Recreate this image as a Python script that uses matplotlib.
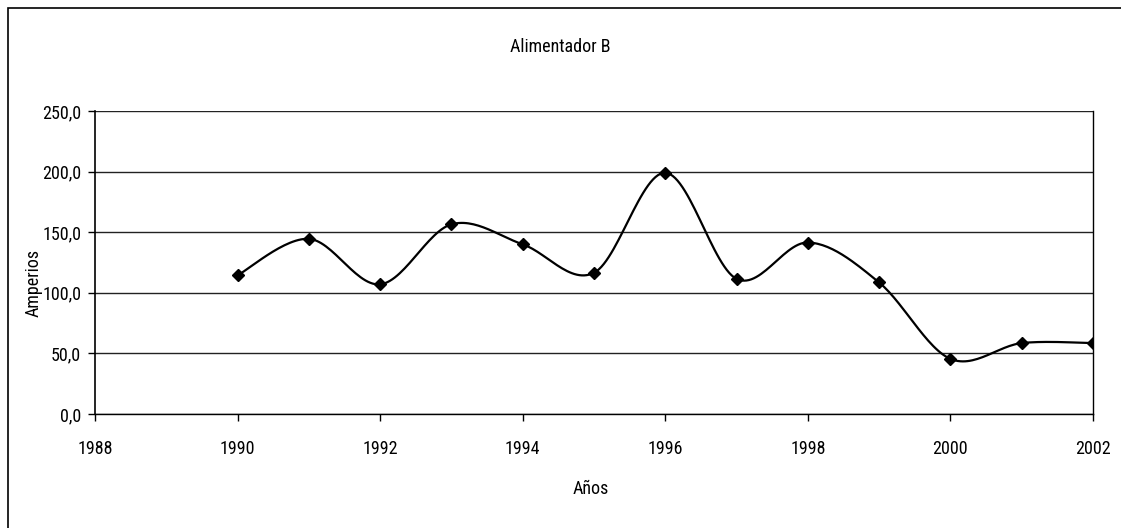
import numpy as np
import matplotlib.pyplot as plt
from matplotlib.patches import Rectangle
from matplotlib import font_manager

years = [1990, 1991, 1992, 1993, 1994, 1995, 1996, 1997, 1998, 1999, 2000, 2001, 2002]
amperios = [114.5, 144.5, 107.0, 156.5, 140.0, 116.5, 199.0, 111.5, 141.5, 108.5, 45.5, 58.5, 58.5]
x_ticks = [1988, 1990, 1992, 1994, 1996, 1998, 2000, 2002]
y_ticks = [0, 50, 100, 150, 200, 250]


def pick_font():
    names = {f.name for f in font_manager.fontManager.ttflist}
    for name in ["Liberation Sans Narrow", "Roboto Condensed", "Liberation Sans", "DejaVu Sans"]:
        if name in names:
            return name
    return "DejaVu Sans"


def smooth_line(x, y, n=30):
    # catmull-rom through the points, like a spreadsheet smoothed line
    x = np.asarray(x, float)
    y = np.asarray(y, float)
    px = np.concatenate([[x[0]], x, [x[-1]]])
    py = np.concatenate([[y[0]], y, [y[-1]]])
    xs, ys = [], []
    for i in range(1, len(px) - 2):
        p0, p1, p2, p3 = (np.array([px[j], py[j]]) for j in range(i - 1, i + 3))
        c1 = p1 + (p2 - p0) / 6
        c2 = p2 - (p3 - p1) / 6
        t = np.linspace(0, 1, n)[:, None]
        pts = ((1 - t) ** 3) * p1 + 3 * ((1 - t) ** 2) * t * c1 + 3 * (1 - t) * t ** 2 * c2 + t ** 3 * p2
        xs.extend(pts[:, 0])
        ys.extend(pts[:, 1])
    return np.array(xs), np.array(ys)


font = pick_font()
plt.rcParams['font.family'] = [font, 'DejaVu Sans']

fig = plt.figure(figsize=(11.21, 5.28), dpi=100)
W, H = 1121, 528
ax = fig.add_axes([95 / W, 1 - 414 / H, (1093 - 95) / W, (414 - 111) / H])

# outer chart frame
fig.patches.append(Rectangle((8 / W, -0.1), 1.2, (1 - 8 / H) + 0.1, transform=fig.transFigure,
                             fill=False, edgecolor='black', linewidth=1.2))

for v in y_ticks:
    ax.axhline(v, color='#222222', linewidth=1.0, zorder=1)

sx, sy = smooth_line(years, amperios)
ax.plot(sx, sy, color='black', linewidth=1.6, zorder=3)
ax.plot(years, amperios, linestyle='none', marker='D', markersize=6,
        color='black', zorder=4)

ax.set_xlim(1988, 2002)
ax.set_ylim(0, 250)
ax.set_xticks(x_ticks)
ax.set_yticks(y_ticks)
ax.set_yticklabels([f"{v:.1f}".replace('.', ',') for v in y_ticks])
ax.tick_params(direction='out', length=5, width=1, labelsize=13)
ax.tick_params(axis='x', pad=14)
ax.tick_params(axis='y', pad=5)
ax.spines['top'].set_visible(False)
ax.spines['right'].set_linewidth(1.0)
ax.spines['left'].set_linewidth(1.2)
ax.spines['bottom'].set_linewidth(1.0)

fig.text(591 / W, 1 - 489 / H, "Años", ha='center', va='center', fontsize=13)
fig.text(34 / W, 1 - 283 / H, "Amperios", ha='center', va='center', rotation=90, fontsize=13)
fig.text(560 / W, 1 - 47 / H, "Alimentador B", ha='center', va='center', fontsize=13)

fig.savefig("out.png", dpi=100, facecolor='white')
